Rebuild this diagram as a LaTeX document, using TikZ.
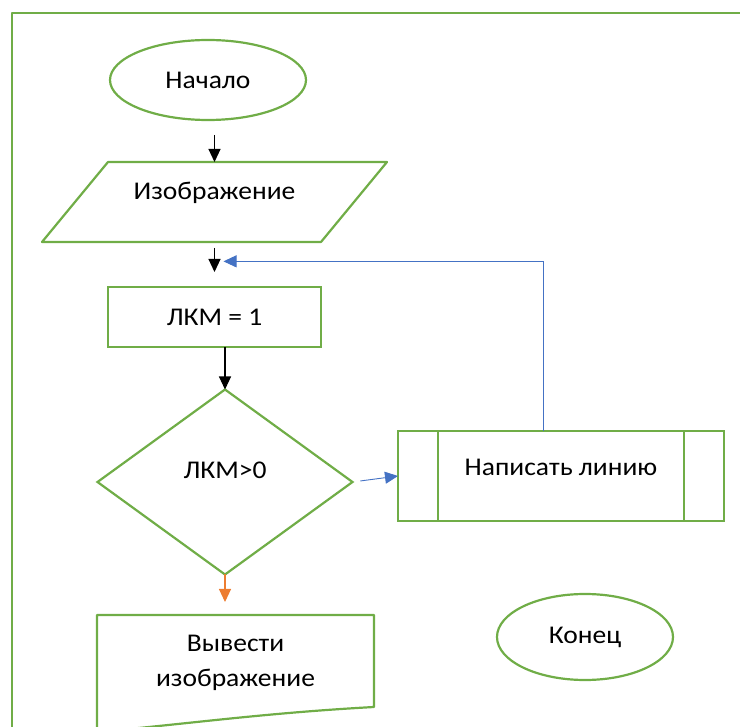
\documentclass[tikz,border=0pt]{standalone}
\usepackage{fontspec}
\setmainfont{Carlito}[FakeStretch=1.08]
\usetikzlibrary{shapes.geometric,arrows.meta,calc}
\definecolor{shapegreen}{HTML}{70AD47}
\definecolor{linkblue}{HTML}{4472C4}
\definecolor{linkorange}{HTML}{ED7D31}
\newcommand{\lift}[2]{\raisebox{#1}[\height][\depth]{#2}}

\begin{document}
\begin{tikzpicture}[x=1pt,y=-1pt] % pixel grid, y grows downwards
\useasboundingbox (0,0) rectangle (740,727);
\clip (0,0) rectangle (740,727);
\tikzset{every node/.style={font=\fontsize{25.5}{35}\selectfont, align=center}} % one text size everywhere
\tikzset{box/.style={draw=shapegreen, line width=2.2pt, inner sep=0pt, outer sep=0pt}} % green outlines
\tikzset{outline/.style={draw=shapegreen, line width=2.2pt, line join=round}}
\tikzset{blk/.style={-{Triangle[width=12pt,length=13pt]}, line width=1.1pt}}
\tikzset{blu/.style={-{Triangle[width=12pt,length=13pt]}, draw=linkblue, line width=0.9pt}}
\tikzset{orn/.style={-{Triangle[width=12pt,length=13pt]}, draw=linkorange, line width=1.1pt}}
\draw[outline] (12,760) -- (12,13) -- (760,13); % frame
\node[box, ellipse, minimum width=196pt, minimum height=80pt] (start) at (208,80) {Начало};
\node[box, draw=none, minimum width=279pt, minimum height=80pt] (img) at (214.5,202) {\lift{9pt}{Изображение}};
\node[box, rectangle, minimum width=213pt, minimum height=60pt] (lkm) at (214.5,317) {ЛКМ = 1};
\node[box, diamond, minimum width=255pt, minimum height=185pt] (cond) at (225,482) {\lift{12pt}{ЛКМ>0}};
\node[box, rectangle, minimum width=326pt, minimum height=90pt] (wline) at (561,476) {\lift{9pt}{Написать линию}};
\node[box, draw=none, minimum width=277pt, minimum height=92pt] (out) at (235.5,661) {\lift{-2pt}{Вывести}\\\lift{-2pt}{изображение}};
\node[box, ellipse, minimum width=176pt, minimum height=86pt] (stop) at (585,637) {Конец};
\draw[outline] ([xshift=-33pt]img.south west) -- ([xshift=-33pt]img.south east)
  -- ([xshift=33pt]img.north east) -- ([xshift=33pt]img.north west) -- cycle; % data parallelogram
\draw[outline] ([xshift=40pt]wline.north west) -- ([xshift=40pt]wline.south west)
  ([xshift=-40pt]wline.north east) -- ([xshift=-40pt]wline.south east); % side bars
\draw[outline] ($(out.south west)+(0,25)$) -- (out.north west) -- (out.north east) -- (out.south east)
  .. controls +(-110,6) and +(90,-8) .. ($(out.south west)+(0,25)$); % document outline
\coordinate (join) at ($(img.south)!0.43!(lkm.north)$);
\draw[blk, shorten <=15pt] (start.south -| img.north) -- (img.north);
\draw[blk, shorten <=6pt, shorten >=15pt] (img.south) -- (lkm.north);
\draw[blu, shorten >=9pt] ([xshift=-18pt]wline.north) |- (join);
\draw[blk] (lkm.south -| cond.north) -- (cond.north);
\draw[blu, shorten <=8pt] (cond.east) -- (wline.west);
\draw[orn, shorten >=13pt] (cond.south) -- (cond.south |- out.north);
\end{tikzpicture}
\end{document}
